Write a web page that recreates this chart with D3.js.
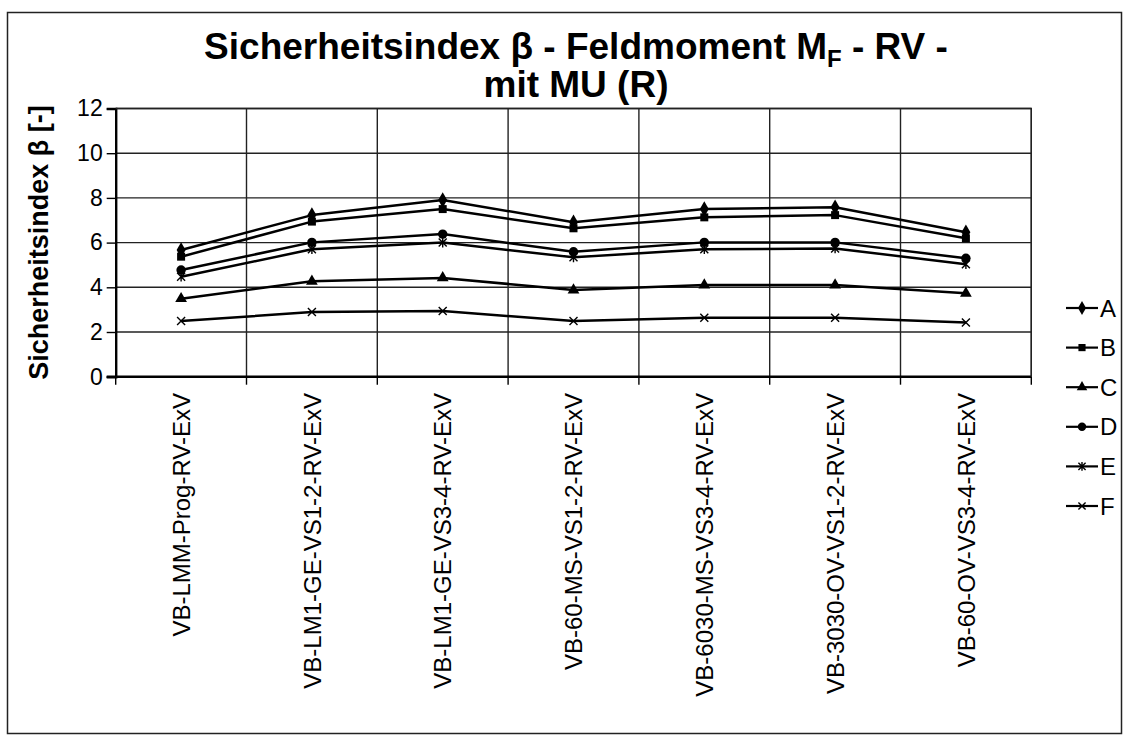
<!DOCTYPE html>
<html>
<head>
<meta charset="utf-8">
<script src="https://cdn.jsdelivr.net/npm/d3@7"></script>
<style>
  html, body { margin: 0; padding: 0; background: #fff; }
  svg { display: block; font-family: "Liberation Sans", Arial, sans-serif; }
</style>
</head>
<body>
<svg id="chart" width="1128" height="735"></svg>
<script>
// Categories (load cases) along the x axis
const categories = [
  "VB-LMM-Prog-RV-ExV",
  "VB-LM1-GE-VS1-2-RV-ExV",
  "VB-LM1-GE-VS3-4-RV-ExV",
  "VB-60-MS-VS1-2-RV-ExV",
  "VB-6030-MS-VS3-4-RV-ExV",
  "VB-3030-OV-VS1-2-RV-ExV",
  "VB-60-OV-VS3-4-RV-ExV"
];

// Safety index beta per series
const seriesNames = ["A", "B", "C", "D", "E", "F"];
const valuesA = [5.67, 7.23, 7.91, 6.91, 7.50, 7.58, 6.46];
const valuesB = [5.37, 6.94, 7.50, 6.64, 7.13, 7.23, 6.19];
const valuesC = [3.49, 4.27, 4.42, 3.88, 4.10, 4.10, 3.73];
const valuesD = [4.77, 6.01, 6.38, 5.59, 6.01, 6.01, 5.30];
const valuesE = [4.47, 5.70, 6.00, 5.34, 5.70, 5.74, 5.03];
const valuesF = [2.49, 2.89, 2.94, 2.49, 2.64, 2.64, 2.43];

// Y axis ticks
const yTicks = [0, 2, 4, 6, 8, 10, 12];

const seriesValues = [valuesA, valuesB, valuesC, valuesD, valuesE, valuesF];
const markerTypes = ["diamond", "square", "triangle", "circle", "star", "cross"];

const svg = d3.select("#chart");

// Outer chart frame
svg.append("rect")
  .attr("x", 7.5).attr("y", 12.5)
  .attr("width", 1114).attr("height", 721)
  .attr("fill", "#fff").attr("stroke", "#222").attr("stroke-width", 1.5);

const plot = { left: 115.7, right: 1031.3, top: 108.5, bottom: 376.7 };

const x = d3.scaleBand().domain(categories).range([plot.left, plot.right]);
const y = d3.scaleLinear().domain([0, 12]).range([plot.bottom, plot.top]);

// Title
const title = svg.append("text")
  .attr("text-anchor", "middle")
  .attr("font-weight", "bold")
  .attr("font-size", 37)
  .attr("fill", "#000");
const t1 = title.append("tspan").attr("x", 576).attr("y", 59);
t1.append("tspan").text("Sicherheitsindex β - Feldmoment M");
t1.append("tspan").attr("font-size", 24).attr("dy", 8).text("F");
t1.append("tspan").attr("dy", -8).text(" - RV -");
title.append("tspan").attr("x", 576).attr("y", 97).text("mit MU (R)");

// Horizontal gridlines
svg.append("g")
  .selectAll("line")
  .data(yTicks.filter(d => d > 0))
  .join("line")
  .attr("x1", plot.left).attr("x2", plot.right)
  .attr("y1", d => y(d)).attr("y2", d => y(d))
  .attr("stroke", "#222").attr("stroke-width", 1.4);

// Vertical gridlines at category boundaries
const boundaries = categories.map(c => x(c)).concat([plot.right]).slice(1);
svg.append("g")
  .selectAll("line")
  .data(boundaries)
  .join("line")
  .attr("x1", d => d).attr("x2", d => d)
  .attr("y1", plot.top).attr("y2", plot.bottom)
  .attr("stroke", "#222").attr("stroke-width", 1.4);

// Y axis
const yAxis = svg.append("g")
  .attr("transform", `translate(${plot.left},0)`)
  .call(d3.axisLeft(y).tickValues(yTicks).tickSize(9).tickPadding(4).tickFormat(d3.format("d")));
yAxis.select(".domain").attr("stroke", "#000").attr("stroke-width", 2.4);
yAxis.selectAll(".tick line").attr("stroke", "#000").attr("stroke-width", 1.4);
yAxis.selectAll(".tick text")
  .attr("font-size", 23)
  .attr("font-family", "Liberation Sans, Arial, sans-serif")
  .attr("fill", "#000");

// X axis with ticks at boundaries
const xAxisG = svg.append("g").attr("transform", `translate(0,${plot.bottom})`);
xAxisG.append("line")
  .attr("x1", plot.left - 9).attr("x2", plot.right)
  .attr("y1", 0).attr("y2", 0)
  .attr("stroke", "#000").attr("stroke-width", 2.4);
xAxisG.selectAll("line.tick")
  .data(categories.map(c => x(c)).concat([plot.right]))
  .join("line")
  .attr("class", "tick")
  .attr("x1", d => d).attr("x2", d => d)
  .attr("y1", 0).attr("y2", 8)
  .attr("stroke", "#000").attr("stroke-width", 1.4);
xAxisG.selectAll("text")
  .data(categories)
  .join("text")
  .attr("transform", d => `translate(${x(d) + x.bandwidth() / 2},${393 - plot.bottom}) rotate(-90)`)
  .attr("text-anchor", "end")
  .attr("dy", "0.36em")
  .attr("font-size", 24)
  .attr("fill", "#000")
  .text(d => d);

// Plot area top/right border
svg.append("path")
  .attr("d", `M${plot.left},${plot.top}H${plot.right}V${plot.bottom}`)
  .attr("fill", "none").attr("stroke", "#222").attr("stroke-width", 1.4);

// Y axis title
svg.append("text")
  .attr("transform", `translate(48,${(plot.top + plot.bottom) / 2}) rotate(-90)`)
  .attr("text-anchor", "middle")
  .attr("font-weight", "bold")
  .attr("font-size", 27)
  .attr("fill", "#000")
  .text("Sicherheitsindex β [-]");

// Marker drawing
function drawMarker(g, type, cx, cy, scale) {
  const s = scale || 1;
  if (type === "diamond") {
    g.append("path").attr("d", d3.symbol(d3.symbolDiamond, 70 * s)())
      .attr("transform", `translate(${cx},${cy})`).attr("fill", "#000");
  } else if (type === "square") {
    g.append("path").attr("d", d3.symbol(d3.symbolSquare, 64 * s)())
      .attr("transform", `translate(${cx},${cy})`).attr("fill", "#000");
  } else if (type === "triangle") {
    g.append("path").attr("d", d3.symbol(d3.symbolTriangle, 60 * s)())
      .attr("transform", `translate(${cx},${cy})`).attr("fill", "#000");
  } else if (type === "circle") {
    g.append("path").attr("d", d3.symbol(d3.symbolCircle, 70 * s)())
      .attr("transform", `translate(${cx},${cy})`).attr("fill", "#000");
  } else if (type === "star") {
    const r = 4 * Math.sqrt(s);
    g.append("path")
      .attr("d", `M${-r},${-r}L${r},${r}M${-r},${r}L${r},${-r}M0,${-r * 1.2}L0,${r * 1.2}`)
      .attr("transform", `translate(${cx},${cy})`)
      .attr("stroke", "#000").attr("stroke-width", 1.4).attr("fill", "none");
  } else if (type === "cross") {
    const r = 4 * Math.sqrt(s);
    g.append("path")
      .attr("d", `M${-r},${-r}L${r},${r}M${-r},${r}L${r},${-r}`)
      .attr("transform", `translate(${cx},${cy})`)
      .attr("stroke", "#000").attr("stroke-width", 1.4).attr("fill", "none");
  }
}

// Series lines and markers
const line = d3.line()
  .x((d, i) => x(categories[i]) + x.bandwidth() / 2)
  .y(d => y(d));

seriesValues.forEach((vals, si) => {
  const g = svg.append("g");
  g.append("path")
    .attr("d", line(vals))
    .attr("fill", "none")
    .attr("stroke", "#000")
    .attr("stroke-width", 2.5)
    .attr("stroke-linejoin", "round");
  vals.forEach((v, i) => {
    drawMarker(g, markerTypes[si], x(categories[i]) + x.bandwidth() / 2, y(v));
  });
});

// Legend
const legendY = d3.scalePoint().domain(seriesNames).range([308, 506]);
const legend = svg.append("g");
seriesNames.forEach((name, si) => {
  const ly = legendY(name);
  legend.append("line")
    .attr("x1", 1066).attr("x2", 1098)
    .attr("y1", ly).attr("y2", ly)
    .attr("stroke", "#000").attr("stroke-width", 2.2);
  drawMarker(legend, markerTypes[si], 1082, ly, 0.8);
  legend.append("text")
    .attr("x", 1100).attr("y", ly)
    .attr("dy", "0.36em")
    .attr("font-size", 24)
    .attr("fill", "#000")
    .text(name);
});
</script>
</body>
</html>
